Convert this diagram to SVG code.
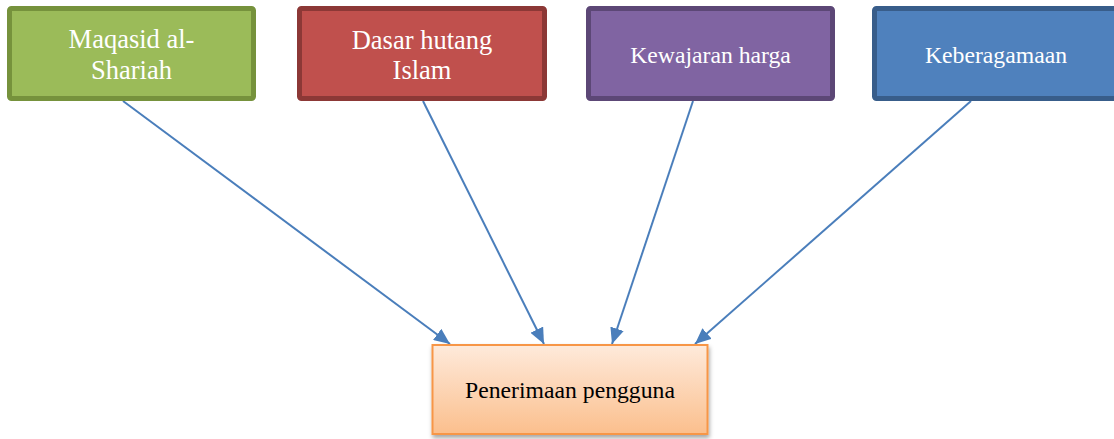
<svg xmlns="http://www.w3.org/2000/svg" width="1114" height="439" viewBox="0 0 1114 439">
<style>
.box{stroke-width:5}
.t{font-family:"Liberation Serif","Times New Roman",serif;fill:#ffffff;text-anchor:middle}
.c{stroke:#4A7EBB;stroke-width:2;fill:none}
</style>
<defs>
<marker id="ah" markerUnits="userSpaceOnUse" markerWidth="18" markerHeight="14" refX="16" refY="7" orient="auto">
<path d="M0,0 L16,7 L0,14 z" fill="#4A7EBB"/>
</marker>
<linearGradient id="og" x1="0" y1="0" x2="0" y2="1">
<stop offset="0" stop-color="#FEEADB"/>
<stop offset="1" stop-color="#FBBF8D"/>
</linearGradient>
<filter id="sh" x="-10%" y="-10%" width="120%" height="130%">
<feDropShadow dx="1" dy="3" stdDeviation="2" flood-color="#000" flood-opacity="0.35"/>
</filter>
</defs>
<rect width="1114" height="439" fill="#ffffff"/>
<g id="connectors">
<line class="c" x1="123" y1="101" x2="450" y2="344" marker-end="url(#ah)"/>
<line class="c" x1="423" y1="101" x2="544" y2="344" marker-end="url(#ah)"/>
<line class="c" x1="693" y1="101" x2="612" y2="344" marker-end="url(#ah)"/>
<line class="c" x1="971" y1="101" x2="695" y2="344" marker-end="url(#ah)"/>
</g>
<g id="maqasid">
<rect class="box" x="9.5" y="8.5" width="244" height="90" rx="2" fill="#9BBB59" stroke="#76923C"/>
<text class="t" x="131.5" y="48" font-size="26.5">Maqasid al-</text>
<text class="t" x="131.5" y="79" font-size="26.5">Shariah</text>
</g>
<g id="dasar">
<rect class="box" x="299.5" y="8.5" width="245" height="90" rx="2" fill="#C0504D" stroke="#8C3836"/>
<text class="t" x="422" y="49" font-size="26.5">Dasar hutang</text>
<text class="t" x="422" y="79" font-size="26.5">Islam</text>
</g>
<g id="kewajaran">
<rect class="box" x="588.5" y="8.5" width="244" height="90" rx="2" fill="#8064A2" stroke="#5C4776"/>
<text class="t" x="710.5" y="63" font-size="23.7">Kewajaran harga</text>
</g>
<g id="keberagamaan">
<rect class="box" x="874.5" y="8.5" width="244" height="90" rx="2" fill="#4F81BD" stroke="#385D8A"/>
<text class="t" x="996" y="63" font-size="23.7">Keberagamaan</text>
</g>
<g id="penerimaan">
<rect x="432.5" y="345" width="275" height="89" fill="url(#og)" stroke="#F79646" stroke-width="2" filter="url(#sh)"/>
<text x="570" y="398" font-size="23.7" font-family="Liberation Serif, Times New Roman, serif" fill="#000000" text-anchor="middle">Penerimaan pengguna</text>
</g>
</svg>
